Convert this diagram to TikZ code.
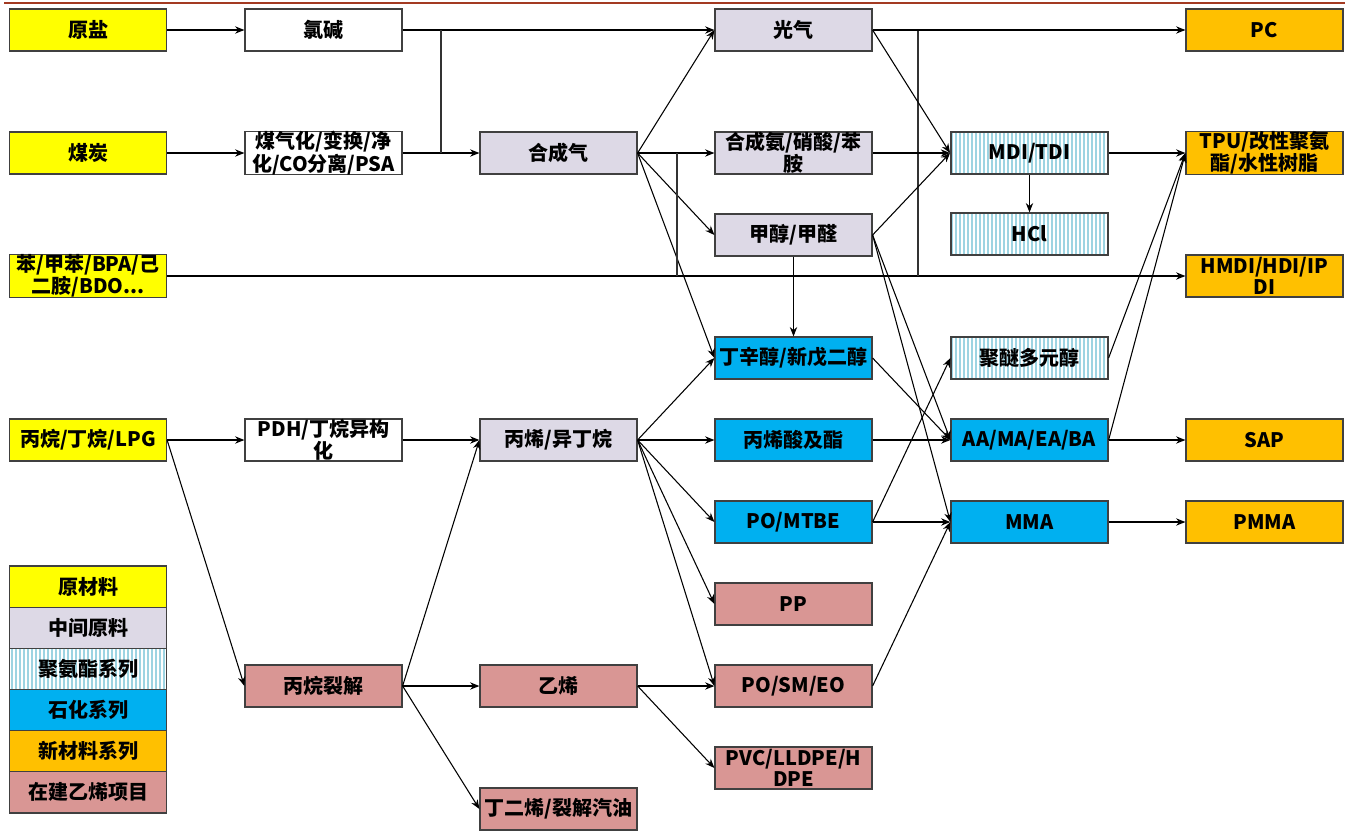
\documentclass[tikz,border=0pt]{standalone}
\usepackage{fontspec}
\setmainfont{Noto Sans CJK SC}
\usepackage{tikz}
\usetikzlibrary{arrows.meta,patterns.meta}
\definecolor{lemon}{HTML}{FFFF00}
\definecolor{lilac}{HTML}{DDD9E6}
\definecolor{petro}{HTML}{00B0F0}
\definecolor{amber}{HTML}{FFC000}
\definecolor{rosy}{HTML}{D99694}
\definecolor{stripe}{HTML}{9DD4E2}
\definecolor{edge}{HTML}{404040}
\definecolor{rust}{HTML}{A33A22}

\begin{document}
\begin{tikzpicture}[
  x=0.75pt, y=-0.75pt,
  >={Stealth[length=7pt,width=5.5pt]},
  font=\bfseries\fontsize{15}{15.5}\selectfont,
  box/.style   = {draw=edge, line width=0.9pt, inner sep=0pt, align=center,
                  minimum width=117.75pt, minimum height=31.5pt, text=black},
  plain/.style = {box, fill=white},
  raw/.style   = {box, fill=lemon},
  mid/.style   = {box, fill=lilac},
  pu/.style    = {box, preaction={fill=white},
                  pattern={Lines[angle=90,distance=3pt,line width=1.4pt]},
                  pattern color=stripe},
  petchem/.style = {box, fill=petro},
  newmat/.style  = {box, fill=amber},
  ethy/.style    = {box, fill=rosy},
  key/.style   = {minimum height=30.9pt},
  flow/.style  = {->, draw=black, line width=0.8pt},
  link/.style  = {draw=black!80, line width=0.8pt},
]
\useasboundingbox (0,0) rectangle (1354,832);

% ---- header rule --------------------------------------------------------
\draw[rust, line width=2pt] (4,3) -- (1345,3);

% ---- raw materials (x = 88) -------------------------------------------
\node[raw] at (88, 30)  (salt)  {原盐};
\node[raw] at (88, 153) (coal)  {煤炭};
\node[raw] at (88, 276) (arom)  {苯/甲苯/BPA/己\\二胺/BDO...};
\node[raw] at (88, 440) (lpg)   {丙烷/丁烷/LPG};

% ---- first step (x = 323.5) -------------------------------------------
\node[plain] at (323.5, 30)  (chlor) {氯碱};
\node[plain] at (323.5, 153) (gasif) {煤气化/变换/净\\化/CO分离/PSA};
\node[plain] at (323.5, 440) (pdh)   {PDH/丁烷异构\\化};
\node[ethy]  at (323.5, 686) (crack) {丙烷裂解};

% ---- intermediates (x = 558.5) ----------------------------------------
\node[mid]  at (558.5, 153) (syngas) {合成气};
\node[mid]  at (558.5, 440) (propyl) {丙烯/异丁烷};
\node[ethy] at (558.5, 686) (ethyl)  {乙烯};
\node[ethy] at (558.5, 809) (butad)  {丁二烯/裂解汽油};

% ---- products (x = 793.5) ---------------------------------------------
\node[mid]     at (793.5, 30)  (phos)   {光气};
\node[mid]     at (793.5, 153) (ammon)  {合成氨/硝酸/苯\\胺};
\node[mid]     at (793.5, 235) (methan) {甲醇/甲醛};
\node[petchem] at (793.5, 358) (oxo)    {丁辛醇/新戊二醇};
\node[petchem] at (793.5, 440) (acryl)  {丙烯酸及酯};
\node[petchem] at (793.5, 522) (pomtbe) {PO/MTBE};
\node[ethy]    at (793.5, 604) (pp)     {PP};
\node[ethy]    at (793.5, 686) (posm)   {PO/SM/EO};
\node[ethy]    at (793.5, 768) (pvc)    {PVC/LLDPE/H\\DPE};

% ---- downstream (x = 1029.5) ------------------------------------------
\node[pu]      at (1029.5, 153) (mdi)    {MDI/TDI};
\node[pu]      at (1029.5, 234) (hcl)    {HCl};
\node[pu]      at (1029.5, 358) (polyol) {聚醚多元醇};
\node[petchem] at (1029.5, 440) (aa)     {AA/MA/EA/BA};
\node[petchem] at (1029.5, 522) (mma)    {MMA};

% ---- new materials (x = 1264.5) ---------------------------------------
\node[newmat] at (1264.5, 30)  (pc)   {PC};
\node[newmat] at (1264.5, 153) (tpu)  {TPU/改性聚氨\\酯/水性树脂};
\node[newmat] at (1264.5, 276) (hmdi) {HMDI/HDI/IP\\DI};
\node[newmat] at (1264.5, 440) (sap)  {SAP};
\node[newmat] at (1264.5, 522) (pmma) {PMMA};

% ---- legend -------------------------------------------------------------
\node[raw, key]     at (88, 586.6) (legraw)   {原材料};
\node[mid, key]     at (88, 627.8) (legmid)   {中间原料};
\node[pu, key]      at (88, 668.9) (legpu)    {聚氨酯系列};
\node[petchem, key] at (88, 710.1) (legpetro) {石化系列};
\node[newmat, key]  at (88, 751.3) (legnew)   {新材料系列};
\node[ethy, key]    at (88, 792.4) (legeth)   {在建乙烯项目};

% ---- junction points ----------------------------------------------------
\coordinate (t1) at (441, 30);
\coordinate (t2) at (441, 153);
\coordinate (t3) at (677, 153);
\coordinate (t4) at (677, 276);
\coordinate (t5) at (918, 30);
\coordinate (t6) at (918, 276);

% ---- edges --------------------------------------------------------------
\draw[flow] (salt) -- (chlor);
\draw[flow] (coal) -- (gasif);
\draw[flow] (chlor) -- (phos);
\draw[flow] (gasif) -- (syngas);
\draw[link] (t1) -- (t2);

\draw[flow] (syngas.east) -- (phos.west);
\draw[flow] (syngas) -- (ammon);
\draw[flow] (syngas.east) -- (methan.west);
\draw[flow] (syngas.east) -- (oxo.west);

\draw[flow] (arom) -- (hmdi);
\draw[link] (t3) -- (t4);
\draw[link] (t5) -- (t6);

\draw[flow] (phos) -- (pc);
\draw[flow] (phos.east) -- (mdi.west);
\draw[flow] (ammon) -- (mdi);
\draw[flow] (methan.east) -- (mdi.west);
\draw[flow] (mdi) -- (hcl);
\draw[flow] (mdi) -- (tpu);

\draw[flow] (methan) -- (oxo);
\draw[flow] (methan.east) -- (aa.west);
\draw[flow] (methan.east) -- (mma.west);
\draw[flow] (oxo.east) -- (aa.west);
\draw[flow] (acryl) -- (aa);
\draw[flow] (pomtbe.east) -- (polyol.west);
\draw[flow] (pomtbe) -- (mma);
\draw[flow] (posm.east) -- (mma.west);
\draw[flow] (polyol.east) -- (tpu.west);
\draw[flow] (aa.east) -- (tpu.west);
\draw[flow] (aa) -- (sap);
\draw[flow] (mma) -- (pmma);

\draw[flow] (lpg) -- (pdh);
\draw[flow] (lpg.east) -- (crack.west);
\draw[flow] (pdh) -- (propyl);
\draw[flow] (crack.east) -- (propyl.west);
\draw[flow] (crack) -- (ethyl);
\draw[flow] (crack.east) -- (butad.west);

\draw[flow] (propyl.east) -- (oxo.west);
\draw[flow] (propyl) -- (acryl);
\draw[flow] (propyl.east) -- (pomtbe.west);
\draw[flow] (propyl.east) -- (pp.west);
\draw[flow] (propyl.east) -- (posm.west);
\draw[flow] (ethyl) -- (posm);
\draw[flow] (ethyl.east) -- (pvc.west);

\end{tikzpicture}
\end{document}
